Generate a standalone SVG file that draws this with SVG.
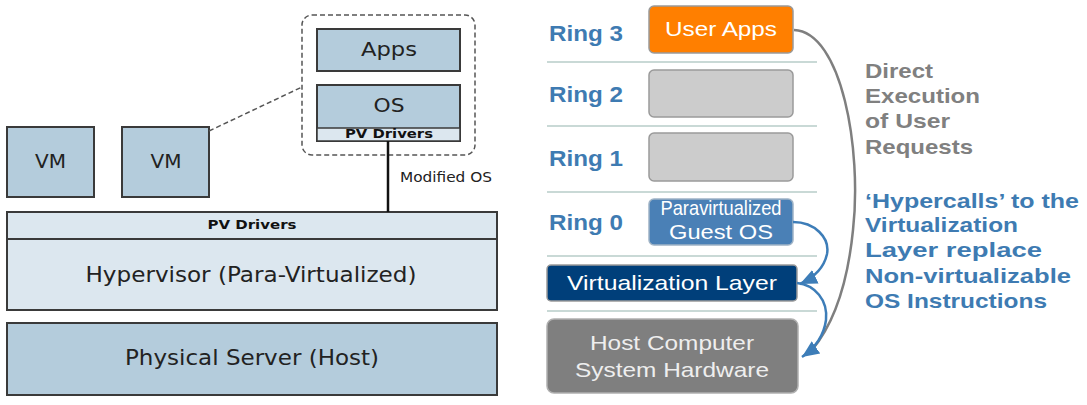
<svg xmlns="http://www.w3.org/2000/svg" width="1087" height="405" viewBox="0 0 1087 405">
<style>
.box{fill:#B4CCDC;stroke:#3a3a3a;stroke-width:2}
.lbox{fill:#DCE7EF;stroke:#3a3a3a;stroke-width:2}
.lt{font-family:"DejaVu Sans",Verdana,sans-serif;fill:#222;text-anchor:middle}
.pv{font-family:"DejaVu Sans",Verdana,sans-serif;font-weight:bold;font-size:12px;fill:#111;text-anchor:middle}
.ring{font-family:"Liberation Sans",Arial,sans-serif;font-weight:bold;font-size:22px;fill:#3E7BB2}
.sep{stroke:#C9D9D6;stroke-width:2}
.rt{font-family:"Liberation Sans",Arial,sans-serif;font-size:21px;text-anchor:middle}
.note{font-family:"Liberation Sans",Arial,sans-serif;font-weight:bold;font-size:21px}
</style>
<defs>
<marker id="bluehead" markerUnits="userSpaceOnUse" markerWidth="18" markerHeight="18" viewBox="0 0 18 18" refX="17" refY="9" orient="auto">
<path d="M0,1.5 L17,9 L0,16.5 z" fill="#3D7DB8"/>
</marker>
</defs>
<rect width="1087" height="405" fill="#ffffff"/>

<!-- Left side -->
<g id="guest-group">
<rect x="302" y="15" width="173" height="140" rx="10" fill="none" stroke="#555" stroke-width="1.5" stroke-dasharray="5,3"/>
</g>
<g id="apps">
<rect class="box" x="317" y="29" width="143" height="42"/>
<text class="lt" x="389" y="56" font-size="19" textLength="56" lengthAdjust="spacingAndGlyphs">Apps</text>
</g>
<g id="os">
<rect class="box" x="317" y="85" width="143" height="56"/>
<rect x="317" y="128" width="143" height="13" fill="#DCE7EF" stroke="#3a3a3a" stroke-width="1.5"/>
<text class="lt" x="389" y="112" font-size="19" textLength="31" lengthAdjust="spacingAndGlyphs">OS</text>
<text class="pv" x="389" y="138" font-size="11" textLength="88" lengthAdjust="spacingAndGlyphs">PV Drivers</text>
</g>
<g id="vm1">
<rect class="box" x="7" y="127" width="87" height="70"/>
<text class="lt" x="50.5" y="168" font-size="20" textLength="31" lengthAdjust="spacingAndGlyphs">VM</text>
</g>
<g id="vm2">
<rect class="box" x="122" y="127" width="87" height="70"/>
<text class="lt" x="166" y="168" font-size="20" textLength="31" lengthAdjust="spacingAndGlyphs">VM</text>
</g>
<g id="hypervisor">
<rect class="lbox" x="7" y="212" width="490" height="98"/>
<line x1="7" y1="239" x2="497" y2="239" stroke="#3a3a3a" stroke-width="2"/>
<text class="pv" x="252" y="229" textLength="89" lengthAdjust="spacingAndGlyphs">PV Drivers</text>
<text class="lt" x="251" y="282" font-size="22" textLength="331" lengthAdjust="spacingAndGlyphs">Hypervisor (Para-Virtualized)</text>
</g>
<g id="physical-server">
<rect class="box" x="7" y="323" width="490" height="72"/>
<text class="lt" x="252" y="365" font-size="22" textLength="254" lengthAdjust="spacingAndGlyphs">Physical Server (Host)</text>
</g>

<!-- Right side: rings -->
<g id="separators">
<line class="sep" x1="547" y1="62" x2="817" y2="62"/>
<line class="sep" x1="547" y1="126" x2="817" y2="126"/>
<line class="sep" x1="547" y1="192" x2="817" y2="192"/>
<line class="sep" x1="547" y1="256" x2="817" y2="256"/>
<line class="sep" x1="547" y1="311" x2="817" y2="311"/>
</g>
<g id="ring-labels">
<text class="ring" x="549" y="41" textLength="74" lengthAdjust="spacingAndGlyphs">Ring 3</text>
<text class="ring" x="549" y="102" textLength="74" lengthAdjust="spacingAndGlyphs">Ring 2</text>
<text class="ring" x="549" y="166" textLength="74" lengthAdjust="spacingAndGlyphs">Ring 1</text>
<text class="ring" x="549" y="230" textLength="74" lengthAdjust="spacingAndGlyphs">Ring 0</text>
</g>
<g id="user-apps">
<rect x="649" y="6" width="144" height="47" rx="5" fill="#FF7F00" stroke="#9a9a9a" stroke-width="1.5"/>
<text class="rt" x="721" y="36" fill="#FFFFFF" textLength="112" lengthAdjust="spacingAndGlyphs">User Apps</text>
</g>
<g id="ring2-box">
<rect x="649" y="70" width="144" height="47" rx="5" fill="#CCCCCC" stroke="#9a9a9a" stroke-width="1.5"/>
</g>
<g id="ring1-box">
<rect x="649" y="133" width="144" height="48" rx="5" fill="#CCCCCC" stroke="#9a9a9a" stroke-width="1.5"/>
</g>
<g id="guest-os">
<rect x="649" y="199" width="144" height="46" rx="5" fill="#4A80B6" stroke="#9fb3c6" stroke-width="1.5"/>
<text class="rt" x="721" y="215" font-size="16" fill="#FFFFFF" textLength="121" lengthAdjust="spacingAndGlyphs">Paravirtualized</text>
<text class="rt" x="721" y="239" fill="#FFFFFF" textLength="104" lengthAdjust="spacingAndGlyphs">Guest OS</text>
</g>
<g id="virtualization-layer">
<rect x="547" y="265" width="250" height="36" rx="4" fill="#003F7A" stroke="#9a9a9a" stroke-width="1.5"/>
<text class="rt" x="672" y="290" fill="#FFFFFF" textLength="210" lengthAdjust="spacingAndGlyphs">Virtualization Layer</text>
</g>
<g id="host-hardware">
<rect x="547" y="319" width="251" height="74" rx="7" fill="#7F7F7F" stroke="#b0b0b0" stroke-width="1.5"/>
<text class="rt" x="672" y="350" fill="#EEEEEE" textLength="164" lengthAdjust="spacingAndGlyphs">Host Computer</text>
<text class="rt" x="672" y="377" fill="#EEEEEE" textLength="194" lengthAdjust="spacingAndGlyphs">System Hardware</text>
</g>

<!-- Connectors -->
<g id="connectors" fill="none">
<line x1="209" y1="131" x2="302" y2="87" stroke="#555" stroke-width="1.5" stroke-dasharray="5,3"/>
<line x1="388" y1="141" x2="388" y2="212" stroke="#111" stroke-width="2.5"/>
<path d="M794,30 C842,32 862,150 853,230 C847,290 832,326 812,350" stroke="#7F7F7F" stroke-width="2.5"/>
<path d="M793,222 C815,222 830,238 827,254 C824,268 815,277 800,284" stroke="#3D7DB8" stroke-width="2.5" marker-end="url(#bluehead)"/>
<path d="M797,283 C815,285 828,300 826,320 C824,335 815,348 802,357" stroke="#3D7DB8" stroke-width="2.5" marker-end="url(#bluehead)"/>
</g>
<g id="labels">
<text x="400" y="182" font-family="'DejaVu Sans',Verdana,sans-serif" font-size="14" fill="#222" textLength="92" lengthAdjust="spacingAndGlyphs">Modified OS</text>
<g class="note" fill="#808080">
<text x="865" y="78" textLength="68" lengthAdjust="spacingAndGlyphs">Direct</text>
<text x="865" y="103" textLength="115" lengthAdjust="spacingAndGlyphs">Execution</text>
<text x="865" y="128" textLength="85" lengthAdjust="spacingAndGlyphs">of User</text>
<text x="865" y="154" textLength="108" lengthAdjust="spacingAndGlyphs">Requests</text>
</g>
<g class="note" fill="#3E7BB2">
<text x="865" y="208" textLength="214" lengthAdjust="spacingAndGlyphs">‘Hypercalls’ to the</text>
<text x="865" y="232" textLength="153" lengthAdjust="spacingAndGlyphs">Virtualization</text>
<text x="865" y="257" textLength="177" lengthAdjust="spacingAndGlyphs">Layer replace</text>
<text x="865" y="283" textLength="206" lengthAdjust="spacingAndGlyphs">Non-virtualizable</text>
<text x="865" y="308" textLength="182" lengthAdjust="spacingAndGlyphs">OS Instructions</text>
</g>
</g>
</svg>
